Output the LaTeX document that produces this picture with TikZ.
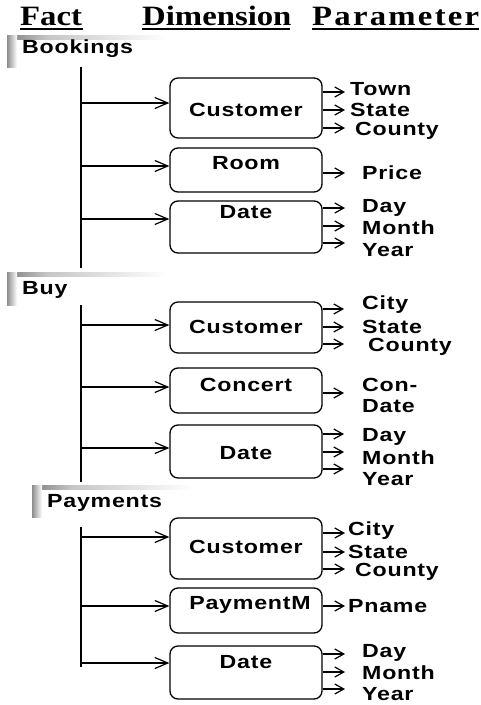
\documentclass[tikz,border=0pt]{standalone}
\usepackage{fontspec}
\setmainfont{Liberation Serif}
\newfontfamily\labfont[FakeStretch=1.22,LetterSpace=4]{Liberation Sans Bold}
\newfontfamily\headfont[FakeStretch=1.17]{Liberation Serif Bold}
\usetikzlibrary{arrows.meta}
\tikzset{
  x=1pt,y=-1pt,
  lab/.style={inner sep=0pt,font=\labfont\fontsize{19}{21}\selectfont},
  head/.style={inner sep=0pt,anchor=base west,font=\headfont\fontsize{28}{30}\selectfont},
  dimbox/.style={draw,line width=1.3pt,rounded corners=8pt,inner sep=0pt},
  branch/.style={line width=1.2pt,-{Straight Barb[length=13pt,width=11pt,line width=1.2pt]}},
  parr/.style={line width=1.2pt,-{Straight Barb[length=9pt,width=10pt,line width=1.2pt]}},
  trunk/.style={line width=1.4pt},
}
\newcommand{\factbox}[5]{% name, x0,y0,x1,y1
  \fill[white] (#2,#3) rectangle (#4,#5);
  \shade[left color=gray!45,right color=white] (#2+40,#3) rectangle (#4,#3+4);
  \shade[left color=gray,right color=gray!45] (#2,#3) rectangle (#2+40,#3+4);
  \shade[left color=gray!90,right color=white] (#2,#3) rectangle (#2+10,#5);
  \coordinate (#1) at (#2,#3);
}
\begin{document}
\begin{tikzpicture}
\useasboundingbox (0,0) rectangle (481,705);
% headers
\node[head] (hFact) at (20,25) {Fact};
\node[head] (hDim) at (142,25) {Dimension};
\node[head] (hPar) at (312,25) {\addfontfeature{LetterSpace=8}Parameter};
\draw[line width=2pt] (20,28.5) -- (83,28.5);
\draw[line width=2pt] (142,28.5) -- (290,28.5);
\draw[line width=2pt] (312,28.5) -- (479,28.5);

% ---------------- Bookings ----------------
\factbox{fb1}{7}{35}{168}{67}
\node[lab,anchor=west] (tBook) at (22,49) {Bookings};
\coordinate (t1a) at (81,67); \coordinate (t1b) at (81,268);
\draw[trunk] (t1a) -- (t1b);
\node[dimbox,minimum width=152pt,minimum height=60pt] (c1) at (246,108) {};
\node[dimbox,minimum width=152pt,minimum height=44pt] (r1) at (246,170) {};
\node[dimbox,minimum width=152pt,minimum height=52pt] (d1) at (246,227) {};
\node[lab] (c1t) at (246,110) {Customer};
\node[lab] (r1t) at (246,163) {Room};
\node[lab] (d1t) at (246,212) {Date};
\coordinate (b11) at (81,103); \coordinate (b12) at (81,166); \coordinate (b13) at (81,219);
\draw[branch] (b11) -- (b11 -| c1.west);
\draw[branch] (b12) -- (b12 -| r1.west);
\draw[branch] (b13) -- (b13 -| d1.west);
\node[lab,anchor=west] (p11) at (350,89) {Town};
\node[lab,anchor=west] (p12) at (350,110) {State};
\node[lab,anchor=west] (p13) at (355,131) {County};
\node[lab,anchor=west] (p14) at (362,173) {Price};
\node[lab,anchor=west] (p15) at (362,208) {Day};
\node[lab,anchor=west] (p16) at (362,228) {Month};
\node[lab,anchor=west] (p17) at (362,250) {Year};
\coordinate (q11) at (345,92); \coordinate (q12) at (345,110); \coordinate (q13) at (345,128);
\coordinate (q14) at (345,173);
\coordinate (q15) at (345,208); \coordinate (q16) at (345,226); \coordinate (q17) at (345,243);
\foreach \q/\b in {q11/c1,q12/c1,q13/c1,q14/r1,q15/d1,q16/d1,q17/d1}
  \draw[parr] (\q -| \b.east) -- (\q);

% ---------------- Buy ----------------
\factbox{fb2}{7}{272}{168}{305}
\node[lab,anchor=west] (tBuy) at (22,290) {Buy};
\coordinate (t2a) at (81,305); \coordinate (t2b) at (81,482);
\draw[trunk] (t2a) -- (t2b);
\node[dimbox,minimum width=152pt,minimum height=51pt] (c2) at (246,327.5) {};
\node[dimbox,minimum width=152pt,minimum height=45pt] (k2) at (246,390.5) {};
\node[dimbox,minimum width=152pt,minimum height=53pt] (d2) at (246,451.5) {};
\node[lab] (c2t) at (246,327) {Customer};
\node[lab] (k2t) at (246,385) {Concert};
\node[lab] (d2t) at (246,453) {Date};
\coordinate (b21) at (81,325); \coordinate (b22) at (81,387); \coordinate (b23) at (81,448);
\draw[branch] (b21) -- (b21 -| c2.west);
\draw[branch] (b22) -- (b22 -| k2.west);
\draw[branch] (b23) -- (b23 -| d2.west);
\node[lab,anchor=west] (p21) at (362,305) {City};
\node[lab,anchor=west] (p22) at (362,327) {State};
\node[lab,anchor=west] (p23) at (368,347) {County};
\node[lab,anchor=west] (p24) at (362,385) {Con-};
\node[lab,anchor=west] (p25) at (362,406) {Date};
\node[lab,anchor=west] (p26) at (362,437) {Day};
\node[lab,anchor=west] (p27) at (362,458) {Month};
\node[lab,anchor=west] (p28) at (362,479) {Year};
\coordinate (q21) at (344,309); \coordinate (q22) at (344,327); \coordinate (q23) at (344,344);
\coordinate (q24) at (344,393);
\coordinate (q25) at (344,434); \coordinate (q26) at (344,452); \coordinate (q27) at (344,469);
\foreach \q/\b in {q21/c2,q22/c2,q23/c2,q24/k2,q25/d2,q26/d2,q27/d2}
  \draw[parr] (\q -| \b.east) -- (\q);

% ---------------- Payments ----------------
\factbox{fb3}{32}{485}{193}{517}
\node[lab,anchor=west] (tPay) at (47,503) {Payments};
\coordinate (t3a) at (81,527); \coordinate (t3b) at (81,667);
\draw[trunk] (t3a) -- (t3b);
\node[dimbox,minimum width=152pt,minimum height=61pt] (c3) at (246,548.5) {};
\node[dimbox,minimum width=152pt,minimum height=45pt] (m3) at (246,610.5) {};
\node[dimbox,minimum width=152pt,minimum height=53pt] (d3) at (246,672.5) {};
\node[lab] (c3t) at (246,547) {Customer};
\node[lab] (m3t) at (250,605) {PaymentM};
\node[lab] (d3t) at (246,662) {Date};
\coordinate (b31) at (81,537); \coordinate (b32) at (81,606); \coordinate (b33) at (81,663);
\draw[branch] (b31) -- (b31 -| c3.west);
\draw[branch] (b32) -- (b32 -| m3.west);
\draw[branch] (b33) -- (b33 -| d3.west);
\node[lab,anchor=west] (p31) at (348,531) {City};
\node[lab,anchor=west] (p32) at (348,552) {State};
\node[lab,anchor=west] (p33) at (355,572) {County};
\node[lab,anchor=west] (p34) at (348,606) {Pname};
\node[lab,anchor=west] (p35) at (362,653) {Day};
\node[lab,anchor=west] (p36) at (362,673) {Month};
\node[lab,anchor=west] (p37) at (362,694) {Year};
\coordinate (q31) at (345,533); \coordinate (q32) at (345,552); \coordinate (q33) at (345,569);
\coordinate (q34) at (345,606);
\coordinate (q35) at (345,654); \coordinate (q36) at (345,672); \coordinate (q37) at (345,689);
\foreach \q/\b in {q31/c3,q32/c3,q33/c3,q34/m3,q35/d3,q36/d3,q37/d3}
  \draw[parr] (\q -| \b.east) -- (\q);
\end{tikzpicture}
\end{document}
